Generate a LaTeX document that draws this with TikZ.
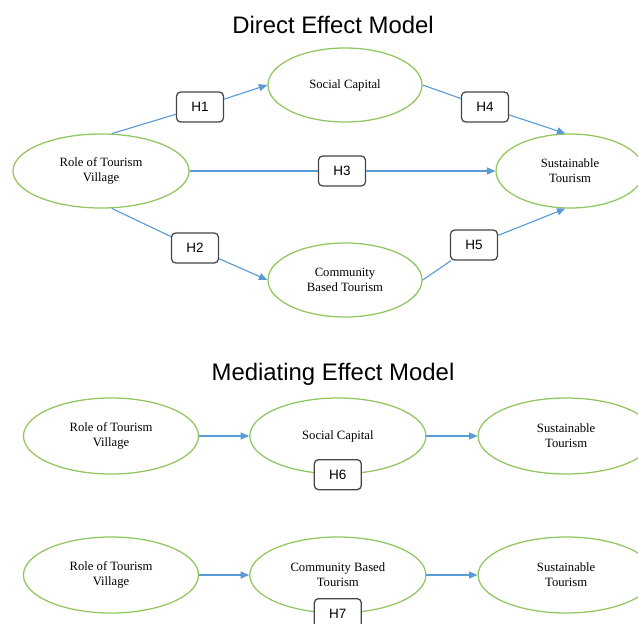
\documentclass[tikz,border=0pt]{standalone}
\usepackage{fontspec}
\setmainfont{Liberation Serif}
\setsansfont{Liberation Sans}
\usetikzlibrary{arrows.meta, shapes.geometric, positioning}
\definecolor{ovalgreen}{RGB}{146,198,96}
\definecolor{arrowblue}{RGB}{91,155,213}
\definecolor{boxgray}{RGB}{70,70,70}
\tikzstyle{model}=[x=0.025cm, y=-0.025cm,
                   >={Triangle[length=6pt,width=5pt]}]
\tikzstyle{var}=[ellipse, draw=ovalgreen, line width=0.9pt, inner sep=0pt,
                 align=center, minimum height=1.85cm,
                 font=\fontsize{9}{10.6}\selectfont]
\tikzstyle{hyp}=[rectangle, rounded corners=3pt, draw=boxgray,
                 line width=0.9pt, fill=white, minimum width=1.175cm,
                 minimum height=0.75cm, font=\sffamily\fontsize{9.6}{11}\selectfont]
\tikzstyle{line}=[draw=arrowblue, line width=0.8pt]
\tikzstyle{link}=[line, ->]
\tikzstyle{title}=[font=\sffamily\fontsize{17}{20}\selectfont]

\begin{document}
\begin{tikzpicture}[model]
  \useasboundingbox (0,0) rectangle (638,624);
  % direct effect model
  \node[title] (t1) at (333,25) {Direct Effect Model};
  \node[var,minimum width=4.4cm] (role) at (101,171) {Role of Tourism\\Village};
  \node[var,minimum width=3.85cm] (soc) at (345,85) {Social Capital};
  \node[var,minimum width=3.85cm] (cbt) at (345,280) {Community\\Based Tourism};
  \node[var,minimum width=3.7cm] (sus) at (570,171) {Sustainable\\Tourism};
  \node[hyp] (h1) at (200,107) {H1};
  \node[hyp] (h2) at (195,248) {H2};
  \node[hyp] (h3) at (342,171) {H3};
  \node[hyp] (h4) at (485,107) {H4};
  \node[hyp] (h5) at (474,245) {H5};
  \path[line] (role.74) -- (h1);
  \path[link] (h1) -- (soc.west);
  \path[line] (role.286) -- (h2);
  \path[link] (h2) -- (cbt.west);
  \path[line] (role.east) -- (h3);
  \path[link] (h3) -- (sus.west);
  \path[line] (soc.east) -- (h4);
  \path[link] (h4) -- (sus.97);
  \path[line] (cbt.east) -- (h5);
  \path[link] (h5) -- (sus.263);
  % mediating effect model
  \node[title] (t2) at (333,374) {Mediating Effect Model};
  \node[var,minimum width=4.375cm,minimum height=1.9cm] (role1) at (111,436) {Role of Tourism\\Village};
  \node[var,minimum width=4.4cm,minimum height=1.9cm] (soc1) [right=1.25cm of role1] {Social Capital};
  \node[var,minimum width=4.4cm,minimum height=1.9cm] (sus1) [right=1.275cm of soc1] {Sustainable\\Tourism};
  \node[hyp] (h6) at (soc1.south) {H6};
  \path[link] (role1) -- (soc1);
  \path[link] (soc1) -- (sus1);
  \node[var,minimum width=4.375cm,minimum height=1.9cm] (role2) at (111,575) {Role of Tourism\\Village};
  \node[var,minimum width=4.4cm,minimum height=1.9cm] (cbt2) [right=1.25cm of role2] {Community Based\\Tourism};
  \node[var,minimum width=4.4cm,minimum height=1.9cm] (sus2) [right=1.275cm of cbt2] {Sustainable\\Tourism};
  \node[hyp] (h7) at (cbt2.south) {H7};
  \path[link] (role2) -- (cbt2);
  \path[link] (cbt2) -- (sus2);
\end{tikzpicture}
\end{document}
